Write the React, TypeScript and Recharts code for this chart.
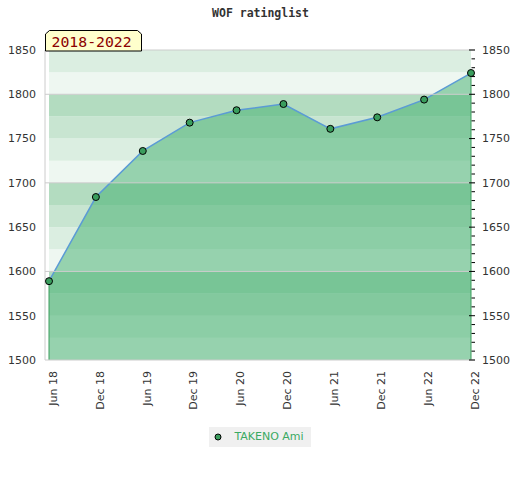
import React from 'react';
import { AreaChart, Area, XAxis, YAxis, ReferenceArea, ReferenceLine, Legend } from 'recharts';

const title = 'WOF ratinglist';
const periodLabel = '2018-2022';
const seriesName = 'TAKENO Ami';

const months = ['Jun 18', 'Dec 18', 'Jun 19', 'Dec 19', 'Jun 20', 'Dec 20', 'Jun 21', 'Dec 21', 'Jun 22', 'Dec 22'];
const ratings = [1589, 1684, 1736, 1768, 1782, 1789, 1761, 1774, 1794, 1824];

const leftTicks = [1500, 1550, 1600, 1650, 1700, 1750, 1800, 1850];
const rightTicks = [
  1500, 1510, 1520, 1530, 1540, 1550, 1560, 1570, 1580, 1590,
  1600, 1610, 1620, 1630, 1640, 1650, 1660, 1670, 1680, 1690,
  1700, 1710, 1720, 1730, 1740, 1750, 1760, 1770, 1780, 1790,
  1800, 1810, 1820, 1830, 1840, 1850,
];
const bandEdges = [1500, 1525, 1550, 1575, 1600, 1625, 1650, 1675, 1700, 1725, 1750, 1775, 1800, 1825, 1850];
const gridValues = [1600, 1700, 1800, 1850];

const bandColors = ['#eef7f1', '#dbeee1', '#c8e5d1', '#b3dcc0'];

const data = months.map((m, i) => ({ month: m, rating: ratings[i] }));

const RightTick = (props: any) => {
  const { x, y, payload } = props;
  const v = payload.value;
  const major = v % 50 === 0;
  const ax = x - 7;
  return (
    <g>
      <line x1={ax - (major ? 6 : 3.5)} x2={ax} y1={y} y2={y} stroke="#000" strokeWidth={1} />
      {major && (
        <text x={x} y={y} dy="0.355em" fontSize={11} fill="#333" textAnchor="start">
          {v}
        </text>
      )}
    </g>
  );
};

const renderLegend = (props: any) => {
  const name = props?.payload?.[0]?.value ?? seriesName;
  return (
    <div style={{ textAlign: 'center', lineHeight: 0 }}>
      <div
        style={{
          display: 'inline-flex',
          alignItems: 'center',
          height: 20,
          padding: '0 7px 0 5px',
          background: '#f0f0f0',
        }}
      >
        <svg width={8} height={8} style={{ marginRight: 12 }}>
          <circle cx={4} cy={4} r={3} fill="#3a9d5d" stroke="#000" strokeWidth={1} />
        </svg>
        <span style={{ fontSize: 11, color: '#3aaa62', fontFamily: '"DejaVu Sans", sans-serif', lineHeight: '20px' }}>
          {name}
        </span>
      </div>
    </div>
  );
};

export default function App() {
  const first = data[0];
  const last = data[data.length - 1];
  return (
    <div style={{ position: 'absolute', left: 0, top: 0, width: 520, height: 480, fontFamily: '"DejaVu Sans", sans-serif' }}>
      <AreaChart width={520} height={480} data={data} margin={{ top: 50, right: 0, bottom: 33, left: 0 }}>
        {bandEdges.slice(0, -1).map((b, i) => (
          <ReferenceArea
            key={'band' + b}
            yAxisId="l"
            y1={b}
            y2={bandEdges[i + 1]}
            fill={bandColors[i % 4]}
            fillOpacity={1}
            stroke="none"
            ifOverflow="visible"
          />
        ))}
        {gridValues.map((g) => (
          <ReferenceLine key={'g' + g} yAxisId="l" y={g} stroke="#cccccc" strokeWidth={1} />
        ))}
        <XAxis
          dataKey="month"
          interval={0}
          tickLine={false}
          tickSize={0}
          tickMargin={11}
          axisLine={{ stroke: '#cccccc' }}
          height={67}
          padding={{ left: 4, right: 4 }}
          tick={{ angle: -90, textAnchor: 'end', verticalAnchor: 'middle', fontSize: 11, fill: '#333' }}
        />
        <YAxis
          yAxisId="l"
          domain={[1500, 1850]}
          ticks={leftTicks}
          interval={0}
          tickLine={false}
          tickSize={0}
          tickMargin={9}
          width={45}
          axisLine={{ stroke: '#cccccc' }}
          tick={{ fontSize: 11, fill: '#333' }}
          allowDataOverflow
        />
        <YAxis
          yAxisId="r"
          orientation="right"
          domain={[1500, 1850]}
          ticks={rightTicks}
          interval={0}
          tickLine={false}
          tickSize={0}
          tickMargin={7}
          width={45}
          axisLine={false}
          tick={<RightTick />}
          allowDataOverflow
        />
        <ReferenceLine
          yAxisId="l"
          segment={[{ x: first.month, y: 1500 }, { x: first.month, y: first.rating }]}
          stroke="#3a9d5d"
          strokeWidth={1}
        />
        <ReferenceLine
          yAxisId="l"
          segment={[{ x: last.month, y: 1500 }, { x: last.month, y: last.rating }]}
          stroke="#3a9d5d"
          strokeWidth={1}
        />
        <Area
          yAxisId="l"
          type="linear"
          dataKey="rating"
          name={seriesName}
          fill="#3dae6c"
          fillOpacity={0.5}
          stroke="#5b9bd5"
          strokeWidth={1.5}
          dot={{ r: 3.5, fill: '#3a9d5d', stroke: '#000', strokeWidth: 1, fillOpacity: 1 }}
          activeDot={false}
          isAnimationActive={false}
        />
        <Legend content={renderLegend} verticalAlign="bottom" wrapperStyle={{ bottom: 33 }} />
      </AreaChart>
      <svg
        width={520}
        height={60}
        style={{ position: 'absolute', left: 0, top: 0, pointerEvents: 'none' }}
      >
        <text
          x={260.5}
          y={16.7}
          textAnchor="middle"
          fontFamily='"DejaVu Sans Mono", monospace'
          fontWeight="bold"
          fontSize={11.5}
          fill="#333"
        >
          {title}
        </text>
        <polygon
          points="45.5,51 45.5,34 49.5,30.5 137.5,30.5 141.5,34 141.5,51"
          fill="#ffffcc"
          stroke="#000"
          strokeWidth={1}
        />
        <text x={51.5} y={46.5} fontFamily='"DejaVu Sans Mono", monospace' fontSize={14.8} fill="#8b0000">
          {periodLabel}
        </text>
      </svg>
    </div>
  );
}
